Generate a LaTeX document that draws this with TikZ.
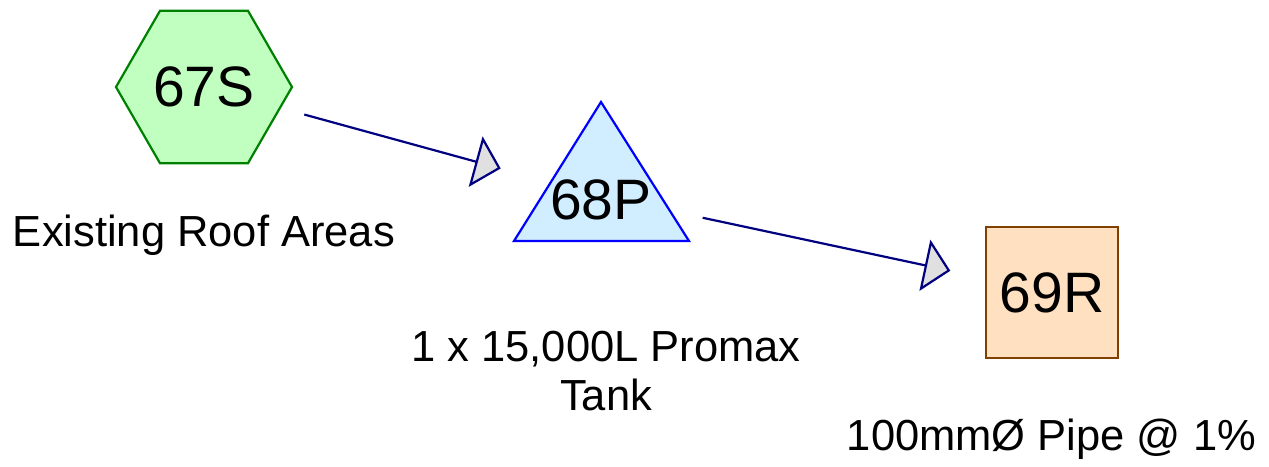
\documentclass[tikz,border=0pt]{standalone}
\usepackage{fontspec}
\setmainfont{Liberation Sans}
\usetikzlibrary{shapes.geometric,arrows.meta}
\definecolor{hexfill}{RGB}{192,255,192}
\definecolor{hexline}{RGB}{0,128,0}
\definecolor{trifill}{RGB}{208,238,255}
\definecolor{triline}{RGB}{0,0,255}
\definecolor{sqfill}{RGB}{255,224,192}
\definecolor{sqline}{RGB}{128,64,0}
\definecolor{flowline}{RGB}{0,0,128}
\definecolor{headfill}{RGB}{224,224,224}
\begin{document}
\begin{tikzpicture}[x=1pt,y=-1pt,
  idfont/.style={font=\fontsize{57}{60}\selectfont},
  lblfont/.style={font=\fontsize{43.5}{49.3}\selectfont},
  hexnode/.style={regular polygon, regular polygon sides=6, minimum size=176pt, inner sep=0pt,
    draw=hexline, fill=hexfill, line width=2.2pt, idfont},
  trishape/.style={draw=triline, fill=trifill, line width=2.2pt, line join=miter},
  sqnode/.style={rectangle, minimum width=132pt, minimum height=131pt, inner sep=0pt,
    draw=sqline, fill=sqfill, line width=2.2pt, idfont},
  flow/.style={draw=flowline, line width=2.2pt, shorten <=104pt, shorten >=104pt,
    -{Triangle[length=26pt, width=52pt, fill=headfill]}},
  lbl/.style={lblfont, inner sep=0pt, anchor=base}
]
\useasboundingbox (0,0) rectangle (1269,466);
% shapes
\node[hexnode] (n67) at (204,87) {67S};
\draw[trishape] (601,102) -- (689,241) -- (514,241) -- cycle;
\node[idfont, inner sep=0pt] (n68) at (601,200) {68P};
\coordinate (c68) at (601,196);
\node[sqnode] (n69) at (1052,292.5) {69R};
% connectors
\draw[flow] (n67.center) -- (c68);
\draw[flow] (c68) -- (n69.center);
% labels
\node[lbl] (l67) at (204,246.7) {Existing Roof Areas};
\node[lblfont, inner sep=0pt, align=center] (l68) at (606,371.3) {1 x 15,000L Promax\\Tank};
\node[lbl] (l69) at (1051.5,450.7) {100mmØ Pipe @ 1\%};
\end{tikzpicture}
\end{document}
